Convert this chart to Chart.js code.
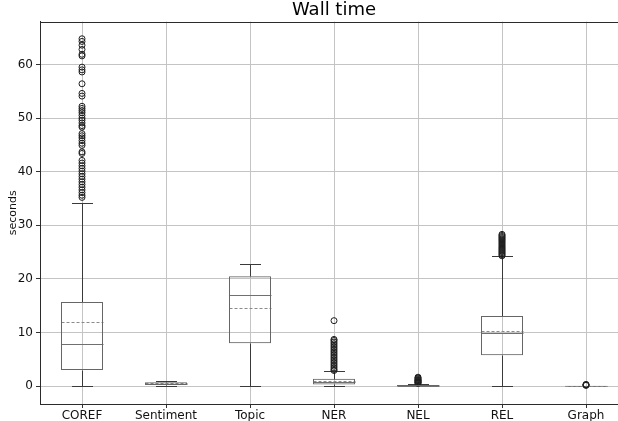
<!DOCTYPE html>
<html>
<head>
<meta charset="utf-8">
<script src="https://cdn.jsdelivr.net/npm/chart.js@4/dist/chart.umd.min.js"></script>
<style>
  html, body { margin: 0; padding: 0; background: #fff; overflow: hidden; }
  #wrap { width: 618px; height: 421px; overflow: hidden; }
  #wallTime { display: block; }
</style>
</head>
<body>
<div id="wrap"><canvas id="wallTime" width="628" height="421"></canvas></div>
<script>
// box plot statistics (seconds)
const categories = ['COREF', 'Sentiment', 'Topic', 'NER', 'NEL', 'REL', 'Graph'];
const q1 = [3.0, 0.2, 8.0, 0.3, 0.02, 5.75, 0.0];
const q3 = [15.7, 0.7, 20.5, 1.35, 0.2, 13.05, 0.05];
const medians = [7.8, 0.45, 16.9, 0.7, 0.08, 9.85, 0.02];
const means = [11.9, 0.5, 14.6, 1.0, 0.15, 10.3, 0.05];
const whiskerLow = [0, 0, 0, 0, 0, 0, 0];
const whiskerHigh = [34.2, 1.0, 22.8, 2.8, 0.45, 24.2, 0.1];

// fliers
const corefOutliers = [64.8, 64.3, 63.6, 62.8, 61.9, 61.6, 59.5, 59.0, 58.6, 56.4, 54.6, 54.1,
  52.2, 51.8, 51.4, 51.0, 50.5, 50.0, 49.6, 49.1, 48.6, 48.3, 47.1, 46.7, 46.3, 45.8, 45.3, 44.9,
  43.7, 43.4, 42.1, 41.6, 41.1, 40.6, 40.1, 39.6, 39.1, 38.6, 38.1, 37.6, 37.1, 36.6, 36.1, 35.6, 35.2];
const nerOutliers = [12.2, 8.7, 8.5, 8.2, 7.9, 7.6, 7.3, 7.0, 6.7, 6.4, 6.1, 5.8, 5.5, 5.2, 4.9,
  4.6, 4.3, 4.0, 3.7, 3.4, 3.1, 2.9];
const nelOutliers = [0.5, 0.6, 0.7, 0.8, 0.9, 1.0, 1.1, 1.2, 1.35, 1.5, 1.65];
const relOutliers = [24.3, 24.5, 24.7, 24.9, 25.1, 25.3, 25.5, 25.7, 25.9, 26.1, 26.3, 26.5,
  26.7, 26.9, 27.1, 27.3, 27.5, 27.7, 27.9, 28.1, 28.3];
const graphOutliers = [0.12, 0.18, 0.25, 0.3];

const yTicks = [0, 10, 20, 30, 40, 50, 60];

const outlierPoints = [
  ...corefOutliers.map(v => ({ x: 'COREF', y: v })),
  ...nerOutliers.map(v => ({ x: 'NER', y: v })),
  ...nelOutliers.map(v => ({ x: 'NEL', y: v })),
  ...relOutliers.map(v => ({ x: 'REL', y: v })),
  ...graphOutliers.map(v => ({ x: 'Graph', y: v }))
];

const crisp = v => Math.round(v) + 0.5;

// whiskers, caps, medians, means and the axes frame
const boxExtras = {
  id: 'boxExtras',
  beforeDatasetsDraw(chart) {
    const { ctx, scales: { x, y } } = chart;
    const step = x.getPixelForValue(1) - x.getPixelForValue(0);
    const boxHalf = step * 0.25;
    const capHalf = step * 0.125;
    ctx.save();
    ctx.lineWidth = 1;
    categories.forEach((cat, i) => {
      const cx = crisp(x.getPixelForValue(i));
      // whiskers
      ctx.strokeStyle = '#3a3a3a';
      ctx.setLineDash([]);
      ctx.beginPath();
      ctx.moveTo(cx, crisp(y.getPixelForValue(q1[i])));
      ctx.lineTo(cx, crisp(y.getPixelForValue(whiskerLow[i])));
      ctx.moveTo(cx, crisp(y.getPixelForValue(q3[i])));
      ctx.lineTo(cx, crisp(y.getPixelForValue(whiskerHigh[i])));
      ctx.stroke();
      // caps
      [whiskerLow[i], whiskerHigh[i]].forEach(v => {
        const py = crisp(y.getPixelForValue(v));
        ctx.beginPath();
        ctx.moveTo(cx - capHalf, py);
        ctx.lineTo(cx + capHalf, py);
        ctx.stroke();
      });
      // median
      ctx.strokeStyle = '#707070';
      const my = crisp(y.getPixelForValue(medians[i]));
      ctx.beginPath();
      ctx.moveTo(cx - boxHalf, my);
      ctx.lineTo(cx + boxHalf, my);
      ctx.stroke();
      // mean
      ctx.strokeStyle = '#8a8a8a';
      ctx.setLineDash([3, 2]);
      const ay = crisp(y.getPixelForValue(means[i]));
      ctx.beginPath();
      ctx.moveTo(cx - boxHalf, ay);
      ctx.lineTo(cx + boxHalf, ay);
      ctx.stroke();
    });
    ctx.restore();
  },
  afterDraw(chart) {
    const { ctx, chartArea } = chart;
    ctx.save();
    ctx.strokeStyle = '#2b2b2b';
    ctx.lineWidth = 1;
    ctx.strokeRect(crisp(chartArea.left), crisp(chartArea.top),
      Math.round(chartArea.right - chartArea.left), Math.round(chartArea.bottom - chartArea.top));
    ctx.restore();
  }
};

new Chart(document.getElementById('wallTime'), {
  type: 'bar',
  data: {
    labels: categories,
    datasets: [
      {
        label: 'IQR',
        data: q1.map((lo, i) => [lo, q3[i]]),
        backgroundColor: 'rgba(0,0,0,0)',
        borderColor: '#666666',
        borderWidth: 1,
        borderSkipped: false,
        categoryPercentage: 1,
        barPercentage: 0.5
      },
      {
        type: 'scatter',
        label: 'fliers',
        data: outlierPoints,
        pointStyle: 'circle',
        pointRadius: 3,
        pointBorderWidth: 1,
        pointBorderColor: '#1e1e1e',
        pointBackgroundColor: 'rgba(0,0,0,0)'
      }
    ]
  },
  options: {
    responsive: false,
    animation: false,
    events: [],
    layout: { autoPadding: false, padding: 0 },
    plugins: {
      legend: { display: false },
      tooltip: { enabled: false },
      title: {
        display: true,
        text: 'Wall time',
        fullSize: false,
        color: '#000',
        font: { family: 'DejaVu Sans', size: 18, weight: 'normal' },
        padding: { top: 0, bottom: 0 }
      }
    },
    scales: {
      x: {
        type: 'category',
        offset: true,
        grid: { offset: false, color: '#c4c4c4', tickColor: '#333', tickLength: 4 },
        border: { color: '#2b2b2b' },
        ticks: { color: '#111', padding: 1, font: { family: 'DejaVu Sans', size: 12 } },
        afterFit: scale => { scale.height = 17; }
      },
      y: {
        min: -3.35,
        max: 68.0,
        afterBuildTicks: scale => { scale.ticks = yTicks.map(v => ({ value: v })); },
        grid: { color: '#c4c4c4', tickColor: '#333', tickLength: 4 },
        border: { color: '#2b2b2b' },
        ticks: { color: '#111', padding: 3, font: { family: 'DejaVu Sans', size: 12 } },
        title: {
          display: true,
          text: 'seconds',
          color: '#111',
          font: { family: 'DejaVu Sans', size: 11 },
          padding: { top: 7, bottom: 0 }
        },
        afterFit: scale => { scale.width = 40; }
      }
    }
  },
  plugins: [boxExtras]
});
</script>
</body>
</html>
